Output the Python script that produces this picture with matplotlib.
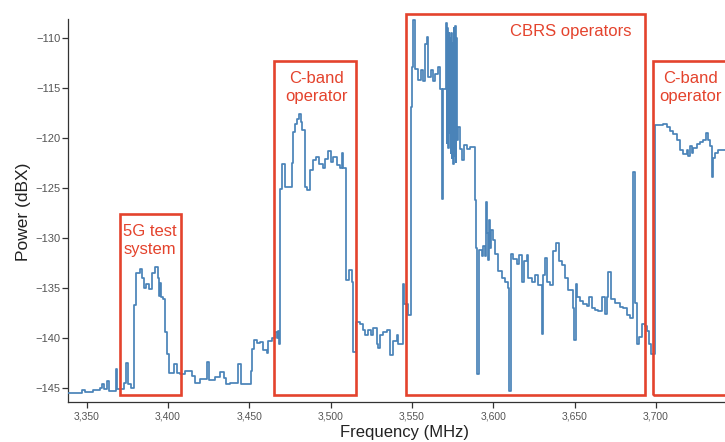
import matplotlib
matplotlib.use("Agg")
import matplotlib.pyplot as plt
from matplotlib.patches import Rectangle
from matplotlib.ticker import FuncFormatter

plt.rcParams['font.family'] = ['Liberation Sans', 'DejaVu Sans']

# Spectrum trace (step breakpoints): frequency in MHz, power in dBX
freq_mhz = [
    3338.7, 3346.9, 3349.0, 3354.1, 3358.2, 3359.2, 3360.8, 3362.3, 3363.5, 3367.8,
    3368.8, 3372.9, 3374.2, 3375.6, 3377.1, 3379.1, 3380.3, 3382.8, 3383.8, 3385.2,
    3386.5, 3388.5, 3390.0, 3392.0, 3394.0, 3394.6, 3395.1, 3395.7, 3396.7, 3398.1,
    3399.6, 3400.6, 3403.7, 3405.3, 3407.4, 3410.4, 3414.6, 3416.6, 3419.7, 3424.2,
    3425.4, 3428.9, 3432.0, 3434.4, 3435.6, 3438.1, 3443.2, 3444.7, 3450.8, 3451.4,
    3452.9, 3454.9, 3456.6, 3458.6, 3460.7, 3461.7, 3463.7, 3465.8, 3466.8, 3467.4,
    3468.2, 3468.9, 3469.9, 3471.9, 3476.0, 3476.7, 3478.1, 3479.5, 3480.7, 3481.6,
    3482.6, 3484.2, 3485.6, 3487.3, 3488.9, 3491.0, 3493.0, 3495.1, 3496.5, 3498.6,
    3500.0, 3501.6, 3503.7, 3505.7, 3506.8, 3507.8, 3509.4, 3511.5, 3512.9, 3513.9,
    3515.6, 3518.0, 3520.1, 3521.1, 3523.1, 3524.6, 3526.2, 3528.3, 3529.3, 3530.3,
    3532.4, 3534.4, 3536.5, 3538.1, 3540.6, 3541.6, 3544.3, 3545.1, 3547.7, 3549.2,
    3550.2, 3550.8, 3551.7, 3553.9, 3555.4, 3557.0, 3558.0, 3559.1, 3560.1, 3561.5,
    3562.7, 3564.2, 3566.2, 3567.2, 3568.5, 3569.3, 3570.7, 3571.3, 3571.7, 3572.1,
    3572.5, 3572.9, 3573.3, 3573.7, 3574.1, 3574.5, 3574.9, 3575.3, 3575.7, 3576.1,
    3576.5, 3576.9, 3577.3, 3577.5, 3578.5, 3579.5, 3580.6, 3582.0, 3583.6, 3585.7,
    3588.8, 3589.2, 3589.8, 3591.0, 3592.9, 3593.9, 3594.9, 3595.5, 3596.4, 3597.0,
    3597.6, 3598.0, 3598.8, 3599.7, 3601.1, 3603.1, 3605.2, 3607.2, 3609.2, 3609.8,
    3610.7, 3612.3, 3614.4, 3616.0, 3617.5, 3618.9, 3620.5, 3621.5, 3623.6, 3625.6,
    3627.7, 3629.8, 3630.8, 3631.8, 3632.8, 3634.9, 3636.9, 3638.6, 3640.2, 3642.1,
    3644.1, 3646.2, 3648.8, 3649.7, 3650.7, 3651.7, 3653.3, 3655.4, 3657.5, 3659.1,
    3660.5, 3662.5, 3664.6, 3666.7, 3668.7, 3669.7, 3670.7, 3672.2, 3674.8, 3677.9,
    3679.9, 3682.0, 3684.0, 3685.7, 3686.9, 3688.5, 3689.8, 3691.2, 3693.2, 3694.7,
    3695.9, 3696.8, 3699.4, 3704.5, 3706.6, 3708.6, 3710.7, 3712.8, 3714.8, 3716.8,
    3718.9, 3719.9, 3720.9, 3722.0, 3722.9, 3725.0, 3727.1, 3729.1, 3730.8, 3732.2,
    3733.2, 3734.3, 3734.9, 3736.3, 3738.3, 3745.0,
]
power_dbx = [
    -145.5, -145.2, -145.4, -145.2, -145.0, -144.6, -145.1, -144.3, -145.3, -143.1,
    -145.1, -144.5, -142.5, -144.6, -145.0, -136.7, -133.5, -133.1, -134.0, -135.0,
    -134.6, -135.1, -133.5, -132.9, -134.0, -135.8, -134.5, -135.9, -136.1, -139.4,
    -141.6, -143.5, -142.6, -143.5, -143.6, -143.3, -143.8, -144.5, -144.1, -142.4,
    -144.2, -143.9, -143.4, -144.0, -144.6, -144.5, -142.6, -144.6, -143.3, -141.1,
    -140.2, -140.5, -140.4, -141.2, -141.5, -140.3, -140.0, -139.4, -140.0, -139.3,
    -140.6, -125.1, -122.6, -124.9, -122.5, -119.4, -118.6, -118.1, -117.6, -118.4,
    -119.2, -124.9, -125.2, -123.2, -122.2, -121.9, -122.6, -123.0, -122.1, -121.3,
    -122.4, -121.9, -122.7, -123.0, -121.5, -123.0, -134.2, -133.2, -134.4, -141.4,
    -138.4, -138.6, -139.2, -139.7, -139.2, -139.7, -139.0, -140.6, -141.0, -139.7,
    -139.4, -139.2, -141.7, -140.3, -139.7, -140.6, -134.6, -136.6, -137.7, -116.9,
    -112.9, -108.2, -113.1, -114.2, -113.2, -114.3, -110.6, -109.9, -113.9, -113.2,
    -114.3, -113.6, -112.9, -115.1, -126.1, -115.1, -108.5, -120.5, -109.0, -121.0,
    -109.5, -119.5, -110.0, -121.5, -109.5, -122.0, -110.5, -122.6, -109.0, -121.8,
    -108.8, -122.4, -110.0, -120.2, -118.9, -121.1, -122.2, -120.7, -121.1, -120.9,
    -126.2, -131.0, -143.6, -131.2, -131.8, -130.8, -131.8, -126.4, -129.5, -132.2,
    -128.2, -131.0, -129.2, -130.2, -131.6, -133.3, -134.0, -134.4, -135.0, -145.3,
    -131.6, -132.1, -132.6, -131.7, -134.4, -132.3, -131.7, -134.0, -134.4, -133.7,
    -134.7, -139.6, -133.7, -132.0, -134.4, -134.7, -131.3, -130.5, -132.3, -132.7,
    -134.0, -135.2, -137.0, -140.2, -134.6, -135.9, -136.3, -136.6, -136.8, -135.9,
    -137.0, -137.2, -137.3, -135.9, -137.6, -135.9, -133.4, -136.1, -136.5, -136.9,
    -137.0, -137.7, -138.0, -123.4, -136.5, -140.6, -139.9, -138.6, -138.8, -139.3,
    -140.6, -141.6, -118.7, -118.6, -118.9, -119.3, -119.6, -120.2, -121.2, -121.6,
    -121.2, -121.8, -120.8, -121.5, -121.0, -120.6, -120.4, -120.2, -119.5, -120.2,
    -120.8, -123.9, -122.0, -121.5, -121.2, -121.2,
]

# Highlighted bands
band_labels = ["5G test\nsystem", "C-band\noperator", "CBRS operators", "C-band\noperator"]
band_start = [3370.5, 3465.3, 3546.1, 3698.4]
band_end = [3408.0, 3515.6, 3693.5, 3760.0]
band_top = [-127.6, -112.3, -107.6, -112.3]
band_bottom = -145.7

x_ticks = [3350, 3400, 3450, 3500, 3550, 3600, 3650, 3700, 3750]
y_ticks = [-110, -115, -120, -125, -130, -135, -140, -145]

RED = '#e4432d'
BLUE = '#4a83b8'

fig = plt.figure(figsize=(7.25, 4.42), dpi=100)
W, H = 725.0, 442.0
x_left, x_right = 3338.7, 3760.0
px_per_mhz = 1.6264
ax_left_px = 68.3
ax_right_px = ax_left_px + (x_right - x_left) * px_per_mhz
ax_top_px, ax_bot_px = 19.0, 401.5
ax = fig.add_axes([ax_left_px / W, 1 - ax_bot_px / H,
                   (ax_right_px - ax_left_px) / W, (ax_bot_px - ax_top_px) / H])

ax.plot(freq_mhz, power_dbx, drawstyle='steps-post', color=BLUE, lw=1.25, zorder=3)

ax.set_xlim(x_left, x_right)
ax.set_ylim(-146.38, -108.13)

for s, e, t in zip(band_start, band_end, band_top):
    ax.add_patch(Rectangle((s, band_bottom), e - s, t - band_bottom, fill=False,
                           edgecolor=RED, lw=1.9, clip_on=False, zorder=4))

# Band labels
text_kw = dict(color=RED, fontsize=12, va='top', ha='center', linespacing=1.3)
ax.text(3388.9, -128.6, band_labels[0], **text_kw)
ax.text(3491.0, -113.3, band_labels[1], **text_kw)
ax.text(3647.7, -108.6, band_labels[2], clip_on=False, **text_kw)
ax.text(3721.1, -113.3, band_labels[3], **text_kw)

ax.set_xticks(x_ticks)
ax.set_yticks(y_ticks)
ax.xaxis.set_major_formatter(FuncFormatter(lambda v, p: f"{int(v):,}"))
ax.tick_params(axis='x', direction='out', length=4, width=0.9, colors='#333333',
               labelsize=7.5, labelcolor='#555555', pad=3)
ax.tick_params(axis='y', direction='out', length=4.5, width=0.9, colors='#333333',
               labelsize=8, labelcolor='#555555', pad=1)

for side in ['top', 'right']:
    ax.spines[side].set_visible(False)
for side in ['left', 'bottom']:
    ax.spines[side].set_color('#333333')
    ax.spines[side].set_linewidth(0.9)

ax.set_xlabel("Frequency (MHz)", fontsize=12, color='#222222')
ax.set_ylabel("Power (dBX)", fontsize=12.5, color='#222222')
ax_w_px = ax_right_px - ax_left_px
ax.xaxis.set_label_coords((404.5 - ax_left_px) / ax_w_px, -(432 - ax_bot_px) / (ax_bot_px - ax_top_px))
ax.yaxis.set_label_coords((24 - ax_left_px) / ax_w_px, (ax_bot_px - 212) / (ax_bot_px - ax_top_px))
ax.xaxis.label.set_va('center')
ax.yaxis.label.set_va('center')

fig.savefig("out.png", dpi=100)
